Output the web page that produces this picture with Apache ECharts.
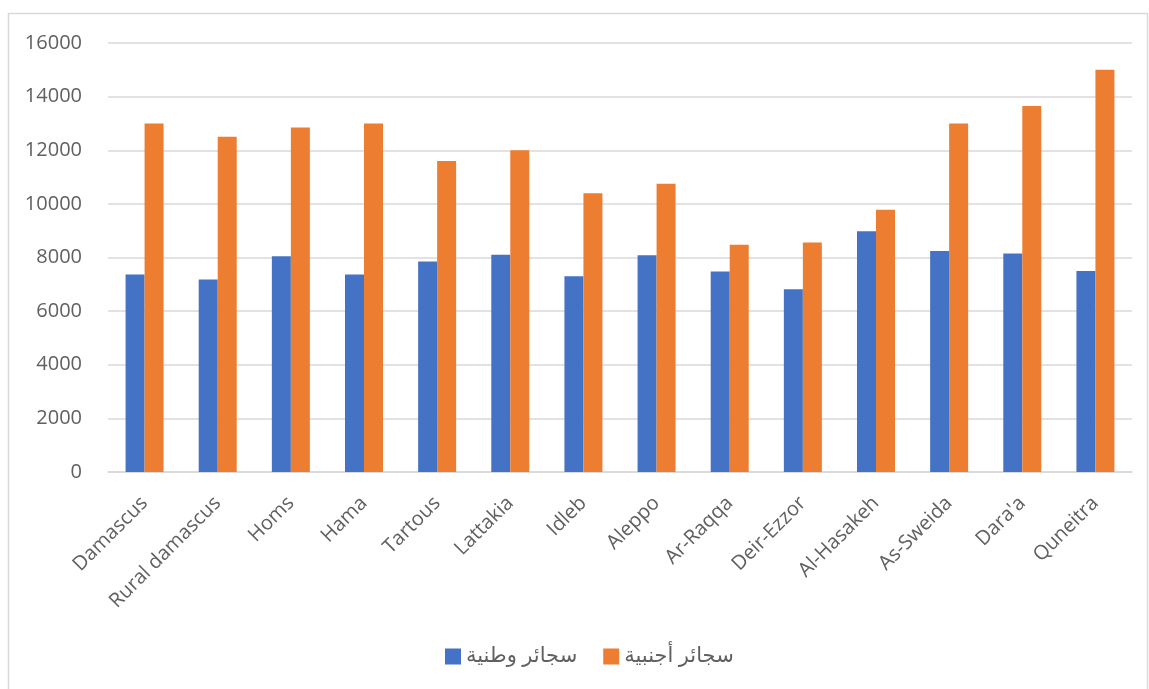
<!DOCTYPE html>
<html>
<head>
<meta charset="utf-8">
<script src="https://cdn.jsdelivr.net/npm/echarts@6/dist/echarts.min.js"></script>
<style>
  html, body { margin: 0; padding: 0; background: #ffffff; }
  #chart { width: 1149px; height: 689px; }
</style>
</head>
<body>
<div id="chart"></div>
<script>
// Governorates along the category axis
const categories = ['Damascus', 'Rural damascus', 'Homs', 'Hama', 'Tartous', 'Lattakia', 'Idleb',
  'Aleppo', 'Ar-Raqqa', 'Deir-Ezzor', 'Al-Hasakeh', 'As-Sweida', "Dara'a", 'Quneitra'];

// Local cigarettes
const localValues = [7370, 7180, 8050, 7370, 7850, 8100, 7300, 8080, 7480, 6820, 8980, 8240, 8150, 7500];
// Foreign cigarettes
const foreignValues = [13000, 12500, 12850, 13000, 11600, 12000, 10400, 10750, 8480, 8560, 9780, 13000, 13650, 15000];

const seriesNames = ['سجائر وطنية', 'سجائر أجنبية'];
const yTicks = { min: 0, max: 16000, interval: 2000 };

const chart = echarts.init(document.getElementById('chart'));
const font = "'Open Sans', 'DejaVu Sans', sans-serif";
const textColor = '#606060';

chart.setOption({
  animation: false,
  backgroundColor: '#ffffff',
  graphic: [{
    type: 'rect',
    shape: { x: 8.5, y: 13.5, width: 1139, height: 700 },
    style: { fill: 'none', stroke: '#d9d9d9', lineWidth: 1.5 },
    silent: true
  }],
  grid: { left: 108, right: 17, top: 43, bottom: 217, containLabel: false },
  legend: {
    top: 646,
    left: 445,
    padding: 0,
    itemWidth: 16,
    itemHeight: 16,
    itemGap: 26,
    icon: 'rect',
    textStyle: { color: textColor, fontSize: 21, lineHeight: 20, fontFamily: font },
    data: seriesNames
  },
  xAxis: {
    type: 'category',
    data: categories,
    axisLine: { lineStyle: { color: '#d9d9d9', width: 1.5 } },
    axisTick: { show: false },
    axisLabel: {
      rotate: 45,
      interval: 0,
      margin: 28,
      color: textColor,
      fontSize: 20,
      fontFamily: font
    }
  },
  yAxis: {
    type: 'value',
    min: yTicks.min,
    max: yTicks.max,
    interval: yTicks.interval,
    axisLine: { show: false },
    axisTick: { show: false },
    splitLine: { lineStyle: { color: '#d9d9d9', width: 1.5 } },
    axisLabel: {
      margin: 26,
      color: textColor,
      fontSize: 20,
      fontFamily: font,
      formatter: (v) => String(v)
    }
  },
  series: [
    {
      name: seriesNames[0],
      type: 'bar',
      data: localValues,
      barWidth: 19,
      barGap: '0%',
      itemStyle: { color: '#4472c4' }
    },
    {
      name: seriesNames[1],
      type: 'bar',
      data: foreignValues,
      barWidth: 19,
      barGap: '0%',
      itemStyle: { color: '#ed7d31' }
    }
  ]
});
</script>
</body>
</html>
